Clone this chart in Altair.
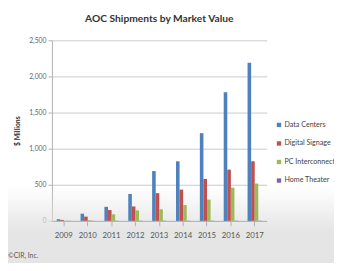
import altair as alt
import pandas as pd

years = ["2009", "2010", "2011", "2012", "2013", "2014", "2015", "2016", "2017"]
series = ["Data Centers", "Digital Signage", "PC Interconnect", "Home Theater"]
data_centers = [23, 100, 195, 373, 690, 825, 1215, 1780, 2190]
digital_signage = [14, 59, 150, 200, 384, 433, 580, 710, 826]
pc_interconnect = [3, 9, 91, 145, 161, 219, 295, 460, 518]
home_theater = [2, 2, 3, 3, 3, 3, 3, 3, 3]
colors = ["#4F81BD", "#C0504D", "#9BBB59", "#8064A2"]

rows = []
for s, vals in zip(series, [data_centers, digital_signage, pc_interconnect, home_theater]):
    for y, v in zip(years, vals):
        rows.append({"Year": y, "Series": s, "Value": v})
df = pd.DataFrame(rows)

font = "Lato"

bg = alt.Chart(pd.DataFrame({"a": [0]})).mark_rect(
    color=alt.LinearGradient(
        gradient="linear", x1=0, y1=0, x2=0, y2=1,
        stops=[alt.GradientStop(color="rgba(225,225,225,0)", offset=0),
               alt.GradientStop(color="rgba(225,225,225,0.85)", offset=0.5),
               alt.GradientStop(color="rgba(228,228,228,1)", offset=1)],
    ),
    clip=False,
).encode(x=alt.value(-53), x2=alt.value(300), y=alt.value(150), y2=alt.value(240))

bars = alt.Chart(df).mark_bar().encode(
    x=alt.X("Year:N", sort=years, title=None,
            scale=alt.Scale(paddingInner=0.4, paddingOuter=0.2),
            axis=alt.Axis(labelAngle=0, labelFontSize=8, labelColor="#555555",
                          domainColor="#b0b0b0", tickColor="#b0b0b0", ticks=True,
                          labelPadding=6, labelFont=font, zindex=1)),
    xOffset=alt.XOffset("Series:N", sort=series),
    y=alt.Y("Value:Q", title="$ Millions",
            scale=alt.Scale(domain=[0, 2500]),
            axis=alt.Axis(values=[0, 500, 1000, 1500, 2000, 2500], format=",.0f",
                          labelFontSize=7, labelColor="#666666", labelFont=font,
                          titleFontSize=7, titleFont=font, titleColor="#333333",
                          titlePadding=8, domainColor="#b0b0b0", tickColor="#b0b0b0",
                          tickSize=4, gridColor="#c8c8c8")),
    color=alt.Color("Series:N", sort=series,
                    scale=alt.Scale(domain=series, range=colors),
                    legend=alt.Legend(title=None, orient="none", legendX=229, legendY=83,
                                      symbolType="square", symbolSize=20,
                                      labelFontSize=7.3, labelFont=font, labelColor="#444444",
                                      rowPadding=11, labelLimit=200, labelOffset=2)),
)

footer = alt.Chart(pd.DataFrame({"t": ["©CIR, Inc."]})).mark_text(
    align="left", baseline="middle", fontSize=7, font=font, color="#555555"
).encode(x=alt.value(-45), y=alt.value(221), text="t:N")

chart = alt.layer(bg, bars, footer).properties(
    width=220, height=185,
    title=alt.TitleParams("AOC Shipments by Market Value", fontSize=10.5, font=font,
                          fontWeight="bold", color="#333333", offset=12),
    autosize=alt.AutoSizeParams(type="none"),
    padding={"left": 45, "top": 30, "right": 69, "bottom": 40},
    background="#ffffff",
).configure_view(stroke=None)

chart.save("out.html", embed_options={"renderer": "svg", "actions": False})
